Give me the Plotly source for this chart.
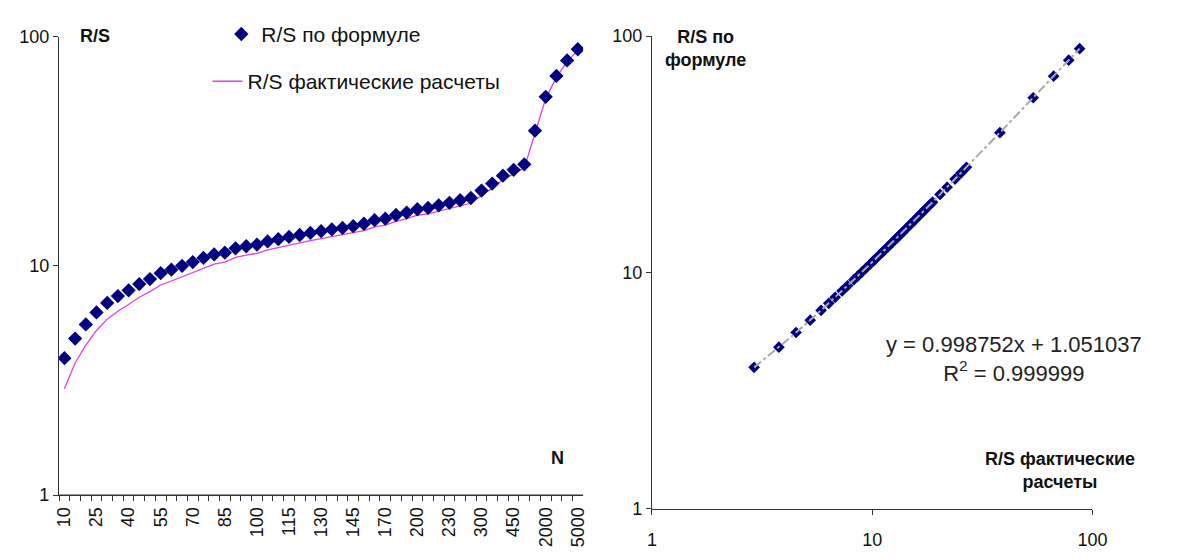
import plotly.graph_objects as go
import numpy as np

# ---- data ----
n_labels = ["10", "15", "20", "25", "30", "35", "40", "45", "50", "55", "60", "65", "70", "75",
            "80", "85", "90", "95", "100", "105", "110", "115", "120", "125", "130", "135", "140",
            "145", "150", "160", "170", "180", "190", "200", "210", "220", "230", "250", "270",
            "300", "350", "400", "450", "500", "1000", "2000", "3000", "4000", "5000"]

rs_formula = [3.96, 4.82, 5.56, 6.27, 6.90, 7.39, 7.83, 8.34, 8.77, 9.30, 9.64, 10.02, 10.40,
              10.85, 11.23, 11.43, 11.95, 12.20, 12.40, 12.80, 13.10, 13.40, 13.66, 13.95, 14.20,
              14.45, 14.67, 14.93, 15.29, 15.85, 16.10, 16.70, 17.12, 17.69, 17.93, 18.40, 18.87,
              19.37, 19.81, 21.35, 22.90, 24.80, 26.30, 27.80, 39.00, 54.80, 67.60, 79.00, 88.40]

rs_actual = [2.91, 3.77, 4.51, 5.23, 5.86, 6.35, 6.79, 7.30, 7.73, 8.26, 8.60, 8.98, 9.36,
             9.81, 10.19, 10.39, 10.91, 11.16, 11.36, 11.77, 12.07, 12.37, 12.63, 12.92, 13.17,
             13.42, 13.64, 13.90, 14.26, 14.82, 15.07, 15.67, 16.09, 16.66, 16.90, 17.37, 17.84,
             18.35, 18.79, 20.33, 21.88, 23.78, 25.28, 26.79, 38.00, 53.82, 66.64, 78.05, 87.46]

trend_slope = 0.998752
trend_intercept = 1.051037
r_squared = 0.999999

shown_text = [lab if i % 3 == 0 else "" for i, lab in enumerate(n_labels)]

NAVY = "#000080"
PINK = "#E040E0"
FONT = "Liberation Sans, Arial, sans-serif"

fig = go.Figure()

# left chart
fig.add_trace(go.Scatter(
    x=n_labels, y=rs_actual, mode="lines", name="R/S фактические расчеты",
    line=dict(color=PINK, width=1.3), xaxis="x", yaxis="y", legend="legend2"))
fig.add_trace(go.Scatter(
    x=n_labels, y=rs_formula, mode="markers", name="R/S по формуле",
    marker=dict(symbol="diamond", size=11, color=NAVY), xaxis="x", yaxis="y", legend="legend"))

# right chart
fig.add_trace(go.Scatter(
    x=rs_actual, y=rs_formula, mode="markers", showlegend=False,
    marker=dict(symbol="diamond", size=9, color=NAVY), xaxis="x2", yaxis="y2"))
tx = np.linspace(min(rs_actual), max(rs_actual), 60)
fig.add_trace(go.Scatter(
    x=tx, y=trend_slope * tx + trend_intercept, mode="lines", showlegend=False,
    line=dict(color="#A8A8A8", width=2, dash="dashdot"), xaxis="x2", yaxis="y2"))

axis_common = dict(showgrid=False, zeroline=False, showline=True, linecolor="#333333",
                   linewidth=1.2, tickfont=dict(family=FONT, size=18, color="#111"),
                   ticklen=5, tickcolor="#333333", tickwidth=1)

fig.update_layout(
    width=1192, height=559, margin=dict(l=0, r=0, t=0, b=0),
    paper_bgcolor="white", plot_bgcolor="white",
    font=dict(family=FONT, color="#111"),
    xaxis=dict(domain=[55 / 1192, 588 / 1192], type="category",
               categoryorder="array", categoryarray=n_labels,
               range=[-0.5, len(n_labels) - 0.5], autorange=False,
               tickmode="array", tickvals=n_labels, ticktext=shown_text,
               tickangle=-90, ticks="outside", tickson="boundaries", anchor="y",
               ticklabelstandoff=4, **axis_common),
    yaxis=dict(domain=[56 / 559, 531 / 559], type="log", range=[0, 2],
               tickmode="array", tickvals=[1, 10, 100], ticktext=["1", "10", "100"],
               ticks="outside", anchor="x", **axis_common),
    xaxis2=dict(domain=[658 / 1192, 1106 / 1192], type="log", range=[0, 2],
                tickmode="array", tickvals=[1, 10, 100], ticktext=["1", "10", "100"],
                ticks="outside", anchor="y2", ticklabelstandoff=10, **axis_common),
    yaxis2=dict(domain=[42 / 559, 532 / 559], type="log", range=[0, 2],
                tickmode="array", tickvals=[1, 10, 100], ticktext=["1", "10", "100"],
                ticks="outside", anchor="x2", **axis_common),
    legend=dict(x=220 / 1192, y=1 - 4 / 559, xanchor="left", yanchor="top",
                bgcolor="rgba(0,0,0,0)", font=dict(family=FONT, size=21, color="#111")),
    legend2=dict(x=206 / 1192, y=1 - 53 / 559, xanchor="left", yanchor="top",
                 bgcolor="rgba(0,0,0,0)", font=dict(family=FONT, size=21, color="#111")),
    showlegend=True,
)

# bottom axis line of the left chart (ensures the baseline is visible)
fig.add_shape(type="line", xref="x domain", yref="y domain", x0=0, x1=1, y0=0, y1=0,
              line=dict(color="#333333", width=1.2), layer="above")

ann_bold = dict(showarrow=False, font=dict(family=FONT, size=18, color="#111"))
fig.add_annotation(text="<b>R/S</b>", xref="paper", yref="paper",
                   x=74 / 1192, y=1 - 27 / 559, xanchor="left", yanchor="middle", **ann_bold)
fig.add_annotation(text="<b>N</b>", xref="paper", yref="paper",
                   x=562 / 1192, y=1 - 465 / 559, xanchor="center", yanchor="middle", **ann_bold)
fig.add_annotation(text="<b>R/S по<br>формуле</b>", xref="paper", yref="paper",
                   x=712 / 1192, y=1 - 40 / 559, xanchor="center", yanchor="middle",
                   align="center", **ann_bold)
fig.add_annotation(text="<b>R/S фактические<br>расчеты</b>", xref="paper", yref="paper",
                   x=1073 / 1192, y=1 - 478 / 559, xanchor="center", yanchor="middle",
                   align="center", **ann_bold)
fig.add_annotation(text=f"y = {trend_slope}x + {trend_intercept}<br>R<sup>2</sup> = {r_squared}",
                   xref="paper", yref="paper", x=1026 / 1192, y=1 - 362 / 559,
                   xanchor="center", yanchor="middle", align="center", showarrow=False,
                   font=dict(family=FONT, size=22, color="#222"))

fig.write_html("out.html")
